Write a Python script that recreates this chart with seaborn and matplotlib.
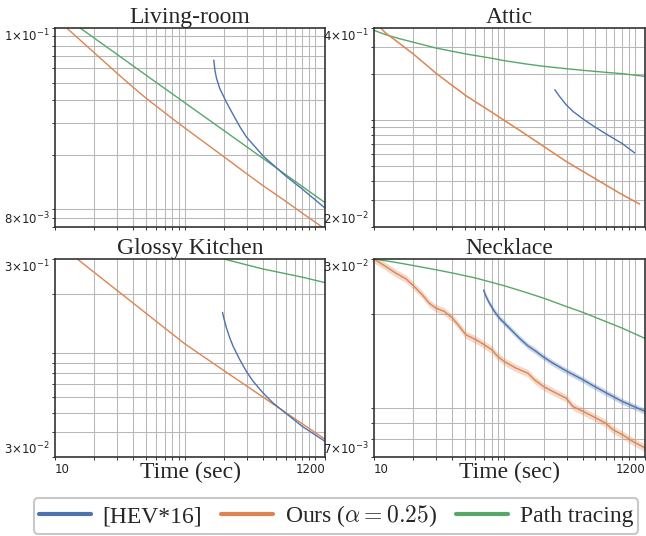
import matplotlib
matplotlib.use('Agg')
import matplotlib.pyplot as plt
import matplotlib.ticker as mticker
from matplotlib.lines import Line2D
import numpy as np
import seaborn as sns

sns.set_theme(style='white')
plt.rcParams['font.family'] = ['Liberation Serif', 'DejaVu Serif']
plt.rcParams['mathtext.fontset'] = 'dejavusans'

# --- Living-room ---
liv_t_ours = [12.3, 20.3, 29.8, 40, 50.7, 80.4, 100, 200, 297, 401, 597, 800, 1200]
liv_ours = [0.1, 0.0725, 0.0566, 0.0471, 0.0408, 0.0316, 0.0281, 0.0195, 0.0158, 0.0135, 0.0111, 0.00955, 0.0078]
liv_t_hev = [167.1, 170.1, 175.2, 185.9, 209.2, 235.4, 264.9, 297.6, 401, 597, 800, 1200]
liv_hev = [0.0665, 0.0590, 0.0529, 0.0463, 0.0389, 0.0333, 0.0286, 0.0251, 0.0197, 0.0153, 0.01297, 0.01018]
liv_t_pt = [15.6, 30, 60, 100, 200, 400, 800, 1200]
liv_pt = [0.1, 0.0716, 0.0502, 0.0387, 0.0272, 0.0191, 0.0134, 0.0109]

# --- Attic ---
att_t_ours = [11.26, 12.29, 15.57, 20.3, 29.8, 40, 50.7, 80.4, 100, 146.8, 200, 297, 401, 597, 800, 1091]
att_ours = [0.4, 0.371, 0.319, 0.268, 0.203, 0.168, 0.1445, 0.1124, 0.0996, 0.0804, 0.0674, 0.0538,
            0.0462, 0.0378, 0.0326, 0.0283]
att_t_hev = [243.8, 264.9, 297.6, 335.5, 401, 477.6, 597, 803, 1000]
att_hev = [0.158, 0.143, 0.1262, 0.1141, 0.1017, 0.0920, 0.0816, 0.0702, 0.0610]
att_t_pt = [10, 12.29, 15.57, 20.3, 29.8, 40, 50.7, 80.4, 100, 146.8, 200, 297, 401, 597, 800, 1200]
att_pt = [0.386, 0.362, 0.341, 0.322, 0.296, 0.2816, 0.2705, 0.2535, 0.2446, 0.2327, 0.2247, 0.2169,
          0.2115, 0.2053, 0.2012, 0.1932]

# --- Glossy Kitchen ---
kit_t_ours = [14.85, 20.3, 29.8, 40, 60.6, 100, 200, 297, 401, 597, 800, 1200]
kit_ours = [0.3, 0.255, 0.2091, 0.1797, 0.1448, 0.1118, 0.0819, 0.0687, 0.0601, 0.0503, 0.0442, 0.0369]
kit_t_hev = [194.9, 199.5, 209.2, 221.9, 235.4, 264.9, 297.6, 335.5, 401, 477.6, 597, 803, 1200]
kit_hev = [0.1613, 0.1510, 0.1344, 0.1197, 0.1087, 0.0930, 0.0812, 0.0723, 0.0631, 0.0562, 0.0500,
           0.0428, 0.0360]
kit_t_pt = [200, 297.6, 401, 597, 803, 1200]
kit_pt = [0.3, 0.2805, 0.2670, 0.2529, 0.2428, 0.2280]

# --- Necklace ---
neck_t_ours = [10, 12.29, 14.67, 17.7, 20.3, 23.5, 26.5, 29.8, 34.5, 40, 45.1, 50.7, 60.6, 70.2, 80.4,
               88.9, 100, 122.9, 151.2, 170.1, 200, 235.4, 297.6, 335.5, 401, 506, 597, 682, 803, 968, 1200]
neck_ours = [0.03, 0.0284, 0.02706, 0.02588, 0.02452, 0.02306, 0.0217, 0.02091, 0.02042, 0.01944,
             0.01828, 0.01719, 0.01657, 0.01597, 0.01539, 0.01466, 0.01412, 0.01345, 0.01297, 0.01235,
             0.01175, 0.01133, 0.01079, 0.01015, 0.00979, 0.00932, 0.00898, 0.00855, 0.00825, 0.00785,
             0.00748]
neck_t_hev = [69.3, 72.3, 76.7, 83.8, 91.5, 100, 115.9, 130.4, 151.2, 175.2, 200, 235.4, 297.6, 401,
              477.6, 597, 803, 1200]
neck_hev = [0.02387, 0.02278, 0.0217, 0.02042, 0.01944, 0.01874, 0.01762, 0.01677, 0.01586, 0.01521,
            0.01459, 0.01396, 0.01319, 0.01235, 0.01184, 0.01125, 0.01053, 0.00979]
neck_t_pt = [10, 14.67, 20.3, 29.8, 40, 60.6, 100, 146.8, 200, 297.6, 401, 597, 803, 1200]
neck_pt = [0.03, 0.02927, 0.02856, 0.02773, 0.02706, 0.02607, 0.02464, 0.02346, 0.0225, 0.02117,
           0.02026, 0.01896, 0.01805, 0.01673]

# relative half-width of the shaded spread
att_ours_spread = 0.015
neck_ours_spread = 0.028
neck_hev_spread = 0.022

titles = ['Living-room', 'Attic', 'Glossy Kitchen', 'Necklace']
ylims = [(0.008, 0.1), (0.02, 0.4), (0.03, 0.3), (0.007, 0.03)]
ylabels = [(r'$8{\times}10^{-3}$', r'$1{\times}10^{-1}$'),
           (r'$2{\times}10^{-2}$', r'$4{\times}10^{-1}$'),
           (r'$3{\times}10^{-2}$', r'$3{\times}10^{-1}$'),
           (r'$7{\times}10^{-3}$', r'$3{\times}10^{-2}$')]
xticks = [10, 1200]

pal = sns.color_palette('deep')
c_hev, c_ours, c_pt = pal[0], pal[1], pal[2]

panels = [
    (liv_t_hev, liv_hev, 0, liv_t_ours, liv_ours, 0, liv_t_pt, liv_pt),
    (att_t_hev, att_hev, 0, att_t_ours, att_ours, att_ours_spread, att_t_pt, att_pt),
    (kit_t_hev, kit_hev, 0, kit_t_ours, kit_ours, 0, kit_t_pt, kit_pt),
    (neck_t_hev, neck_hev, neck_hev_spread, neck_t_ours, neck_ours, neck_ours_spread, neck_t_pt, neck_pt),
]

fig = plt.figure(figsize=(6.46, 5.36), dpi=100)
W, H = 646, 536
rects = [(55, 28, 270, 199), (374, 28, 271, 199), (55, 259, 270, 198), (374, 259, 271, 198)]

for i, (x0, y0, w, h) in enumerate(rects):
    ax = fig.add_axes([x0 / W, 1 - (y0 + h) / H, w / W, h / H])
    th, vh, sh, to, vo, so, tp, vp = panels[i]
    for t, v, s, c in [(tp, vp, 0, c_pt), (to, vo, so, c_ours), (th, vh, sh, c_hev)]:
        sns.lineplot(x=t, y=v, ax=ax, color=c, lw=1.0)
        if s:
            v = np.array(v)
            ax.fill_between(t, v * (1 - s), v * (1 + s), color=c, alpha=0.3, lw=0)
    ax.set_xscale('log')
    ax.set_yscale('log')
    ax.set_xlim(10, 1200)
    ax.set_ylim(*ylims[i])
    ax.set_title(titles[i], fontsize=17, pad=3)

    ax.xaxis.set_minor_locator(mticker.LogLocator(base=10, subs=np.arange(1, 10), numticks=50))
    ax.yaxis.set_minor_locator(mticker.LogLocator(base=10, subs=np.arange(1, 10), numticks=50))
    ax.xaxis.set_minor_formatter(mticker.NullFormatter())
    ax.yaxis.set_minor_formatter(mticker.NullFormatter())

    ax.set_yticks(list(ylims[i]), labels=list(ylabels[i]))
    yl = ax.get_yticklabels()
    yl[0].set_va('bottom')
    yl[1].set_va('top')

    if i >= 2:
        ax.set_xticks(xticks, labels=[str(x) for x in xticks])
        xl = ax.get_xticklabels()
        xl[0].set_ha('left')
        xl[1].set_ha('right')
        ax.set_xlabel('Time (sec)', fontsize=17)
        ax.xaxis.set_label_coords(0.5, -0.025)
    else:
        ax.set_xticks(xticks, labels=['', ''])

    for lab in ax.get_xticklabels() + ax.get_yticklabels():
        lab.set_fontfamily('DejaVu Sans')
        lab.set_fontsize(8.5)
        lab.set_color('#222222')
    ax.tick_params(which='both', direction='out', length=2.5, width=0.7, color='#333333',
                   left=True, bottom=True, pad=1.5)
    ax.grid(which='minor', color='#b8b8b8', lw=0.75)
    ax.grid(which='major', visible=False)
    for sp in ax.spines.values():
        sp.set_color('#333333')
        sp.set_linewidth(1.2)
    ax.set_ylabel('')

handles = [Line2D([], [], color=c_hev, lw=3),
           Line2D([], [], color=c_ours, lw=3),
           Line2D([], [], color=c_pt, lw=3)]
labels = ['[HEV*16]', r'Ours ($\alpha = 0.25$)', 'Path tracing']
leg = fig.legend(handles, labels, loc='center', bbox_to_anchor=(336 / W, 1 - 516 / H), ncol=3,
                 fontsize=17, frameon=True, edgecolor='#bbbbbb', fancybox=True,
                 handlelength=2.2, handletextpad=0.5, columnspacing=0.8, borderpad=0.22,
                 borderaxespad=0.3)
leg.get_frame().set_linewidth(1.5)
for t in leg.get_texts():
    t.set_math_fontfamily('cm')

fig.savefig('out.png', dpi=100)
